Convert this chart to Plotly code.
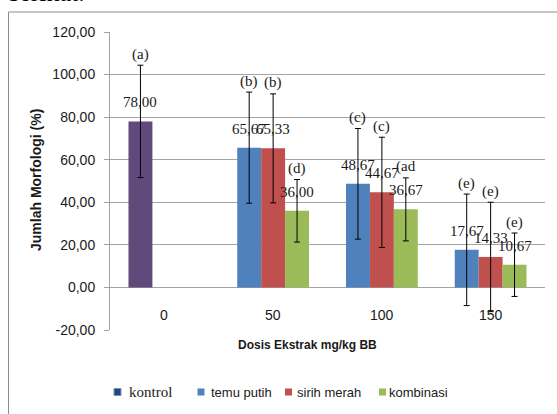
import plotly.graph_objects as go

# Dose categories (mg/kg BB)
doses = ["0", "50", "100", "150"]

# Control group (only at dose 0)
kontrol = [78.00]
kontrol_err = [26.4]
kontrol_letters = ["(a)"]

# Treatment groups at doses 50, 100, 150
temu_putih = [65.67, 48.67, 17.67]
temu_putih_err = [26.1, 26.0, 26.2]
temu_putih_letters = ["(b)", "(c)", "(e)"]

sirih_merah = [65.33, 44.67, 14.33]
sirih_merah_err = [25.6, 25.9, 25.7]
sirih_merah_letters = ["(b)", "(c)", "(e)"]

kombinasi = [36.00, 36.67, 10.67]
kombinasi_err = [14.7, 14.8, 14.9]
kombinasi_letters = ["(d)", "(ad", "(e)"]

legend_names = ["kontrol", "temu putih", "sirih merah", "kombinasi"]

# Y axis ticks
y_ticks = [-20, 0, 20, 40, 60, 80, 100, 120]
y_ticktext = [f"{v:.2f}".replace(".", ",") for v in y_ticks]

# Styling
W, H = 557, 414
ML, MR, MT, MB = 110, 12, 32, 84
PW, PH = W - ML - MR, H - MT - MB
BARGAP = 0.34
SLOT = (1 - BARGAP) / 3

C_KONTROL = "#604A7B"
C_TEMU = "#4F81BD"
C_SIRIH = "#C0504D"
C_KOMB = "#9BBB59"
GRID = "#a3a3a3"
TXT = "#1a1a1a"
SANS = "Liberation Sans, Arial"
SERIF = "Liberation Serif, Times New Roman, serif"


def px_x(p):
    return (p - ML) / PW


def px_y(p):
    return (H - MB - p) / PH


idx = list(range(len(doses)))
treat_x = idx[1:]

fig = go.Figure()

err_style = dict(type="data", color="black", thickness=1, width=3, visible=True)

fig.add_trace(go.Bar(x=idx[:1], y=kontrol, name=legend_names[0], offsetgroup="1",
                     marker=dict(color=C_KONTROL, line=dict(width=0)),
                     error_y=dict(array=kontrol_err, **err_style), showlegend=False))
fig.add_trace(go.Bar(x=treat_x, y=temu_putih, name=legend_names[1], offsetgroup="1",
                     marker=dict(color=C_TEMU, line=dict(width=0)),
                     error_y=dict(array=temu_putih_err, **err_style), showlegend=False))
fig.add_trace(go.Bar(x=treat_x, y=sirih_merah, name=legend_names[2], offsetgroup="2",
                     marker=dict(color=C_SIRIH, line=dict(width=0)),
                     error_y=dict(array=sirih_merah_err, **err_style), showlegend=False))
fig.add_trace(go.Bar(x=treat_x, y=kombinasi, name=legend_names[3], offsetgroup="3",
                     marker=dict(color=C_KOMB, line=dict(width=0)),
                     error_y=dict(array=kombinasi_err, **err_style), showlegend=False))

annotations = []


def label_bars(xs, vals, errs, letters, slot):
    for x, v, e, t in zip(xs, vals, errs, letters):
        xc = x + (slot - 1) * SLOT
        annotations.append(dict(x=xc, y=v, xref="x", yref="y", text=f"{v:.2f}".replace(".", ","),
                                showarrow=False, yanchor="middle", yshift=19,
                                font=dict(family=SERIF, size=15, color=TXT)))
        annotations.append(dict(x=xc, y=v + e, xref="x", yref="y", text=t,
                                showarrow=False, yanchor="middle", yshift=11,
                                font=dict(family=SERIF, size=15, color=TXT)))


label_bars(idx[:1], kontrol, kontrol_err, kontrol_letters, 0)
label_bars(treat_x, temu_putih, temu_putih_err, temu_putih_letters, 0)
label_bars(treat_x, sirih_merah, sirih_merah_err, sirih_merah_letters, 1)
label_bars(treat_x, kombinasi, kombinasi_err, kombinasi_letters, 2)

# Category labels sit between the 0 line and the bottom of the plot
for i, d in zip(idx, doses):
    annotations.append(dict(x=i, y=-12.8, xref="x", yref="y", text=d, showarrow=False,
                            yanchor="middle", font=dict(family=SANS, size=14, color=TXT)))

# Axis titles
annotations.append(dict(x=px_x(307), y=px_y(345), xref="paper", yref="paper",
                        xanchor="center", yanchor="middle",
                        text="<b>Dosis Ekstrak mg/kg BB</b>", showarrow=False,
                        font=dict(family=SANS, size=12, color=TXT)))
annotations.append(dict(x=px_x(36), y=px_y(180), xref="paper", yref="paper",
                        xanchor="center", yanchor="middle",
                        text="<b>Jumlah Morfologi (%)</b>", showarrow=False, textangle=-90,
                        font=dict(family=SANS, size=14, color=TXT)))

# Text line above the chart frame
annotations.append(dict(x=px_x(7), y=px_y(9.5), xref="paper", yref="paper", text="serikat.",
                        showarrow=False, xanchor="left", yanchor="bottom",
                        font=dict(family=SERIF, size=26, color="black")))

shapes = []
# Chart frame
shapes.append(dict(type="rect", xref="paper", yref="paper", x0=px_x(8.5), x1=px_x(620),
                   y0=px_y(430), y1=px_y(12), line=dict(color="#8c8c8c", width=1),
                   fillcolor="rgba(0,0,0,0)", layer="below"))

# Legend
legend_colors = ["#1F497D", C_TEMU, C_SIRIH, C_KOMB]
legend_marker_x = [117.5, 201, 288.5, 382.5]
legend_text_x = [127, 209, 295, 387]
legend_fonts = [SERIF, SANS, SANS, SANS]
legend_sizes = [15, 13, 13, 13]
LEG_Y = 392
for name, col, mx, tx, fam, fs in zip(legend_names, legend_colors, legend_marker_x,
                                      legend_text_x, legend_fonts, legend_sizes):
    shapes.append(dict(type="rect", xref="paper", yref="paper",
                       x0=px_x(mx - 3.5), x1=px_x(mx + 3.5),
                       y0=px_y(LEG_Y + 3.5), y1=px_y(LEG_Y - 3.5),
                       fillcolor=col, line=dict(width=1 if name == "kontrol" else 0, color="#7a94b8")))
    annotations.append(dict(x=px_x(tx), y=px_y(LEG_Y), xref="paper", yref="paper", text=name,
                            showarrow=False, xanchor="left", yanchor="middle",
                            font=dict(family=fam, size=fs, color=TXT)))

fig.update_layout(
    width=W, height=H,
    margin=dict(l=ML, r=MR, t=MT, b=MB, pad=0),
    paper_bgcolor="white", plot_bgcolor="white",
    barmode="group", bargap=BARGAP, bargroupgap=0,
    showlegend=False,
    annotations=annotations,
    shapes=shapes,
    xaxis=dict(range=[-0.5, len(doses) - 0.5], showticklabels=False, showgrid=False,
               zeroline=False, showline=False, ticks=""),
    yaxis=dict(range=[-20, 120], tickmode="array", tickvals=y_ticks, ticktext=y_ticktext,
               showgrid=True, gridcolor=GRID, gridwidth=1,
               zeroline=False, showline=True, linecolor=GRID, linewidth=1,
               ticks="outside", ticklen=5, tickcolor=GRID, ticklabelstandoff=6,
               tickfont=dict(family=SANS, size=14, color=TXT)),
)

fig.write_html("out.html")
